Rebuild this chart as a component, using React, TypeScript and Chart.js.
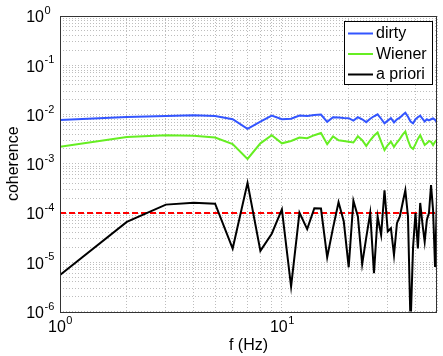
import { useEffect, useRef } from "react";
import { Chart, registerables } from "chart.js";
Chart.register(...registerables);

const freqs = [1,2,3,4,5,6,7,8,9,10,11,12,13,14,15,16,17,18,19,20,21,22,23,24,25,26,27,28,29,30,31,32,33,34,35,36,37,38,39,40,41,42,43,44,45,46,47,48,49,50];
const dirty = [0.0077,0.0089,0.0093,0.0096,0.0093,0.0080,0.0051,0.0072,0.0095,0.0080,0.0082,0.0095,0.0093,0.0098,0.0100,0.0071,0.0088,0.0087,0.0085,0.0084,0.0075,0.0088,0.0080,0.0070,0.0082,0.0092,0.0101,0.0082,0.0066,0.0075,0.0084,0.0069,0.0080,0.0086,0.0098,0.0109,0.0090,0.0072,0.0066,0.0080,0.0088,0.0095,0.0082,0.0072,0.0080,0.0076,0.0080,0.0083,0.0078,0.0069];
const wiener = [0.0022,0.0035,0.0038,0.0037,0.0034,0.0025,0.00125,0.0026,0.0038,0.0026,0.0029,0.0034,0.0033,0.0038,0.0042,0.0025,0.0036,0.0030,0.0029,0.0028,0.0027,0.0036,0.0030,0.0023,0.0030,0.0037,0.0043,0.0028,0.0019,0.0024,0.0028,0.0022,0.0027,0.0032,0.0039,0.0045,0.0030,0.0022,0.0020,0.0025,0.0032,0.0038,0.0030,0.0024,0.0026,0.0029,0.0028,0.0024,0.0028,0.0031];
const aPriori = [5.5e-6,6.6e-5,1.48e-4,1.62e-4,1.55e-4,1.9e-5,4.1e-4,1.7e-5,3.8e-5,1.18e-4,3.2e-6,1.02e-4,4.7e-5,1.25e-4,1.23e-4,1.26e-5,5e-5,1.65e-4,6.8e-5,7.9e-6,1.78e-4,8.5e-5,9.1e-6,3.2e-5,1.0e-4,6e-6,8.5e-5,3.6e-5,2.9e-4,4.2e-5,4.9e-5,1.4e-5,6.2e-5,8.5e-5,1.6e-4,2.9e-4,8.5e-5,5e-7,2e-5,1.0e-4,1.9e-5,1.6e-4,6e-5,2.6e-5,7.2e-5,1.0e-4,3.7e-4,1.15e-4,8e-6,2.1e-4];
const threshold = 1e-4;
const xTickExps = [0, 1];
const yTickExps = [0, -1, -2, -3, -4, -5, -6];
const xGridValues = [1,2,3,4,5,6,7,8,9,10,20,30,40,50];
const seriesLabels = ["dirty", "Wiener", "a priori"];
const seriesColors = ["#3355ff", "#66ee22", "#000000"];

const FONT = '"Liberation Sans", Arial, Helvetica, sans-serif';

function yGridValues(): number[] {
  const out: number[] = [];
  for (let d = -6; d < 0; d++) {
    for (let k = 1; k <= 9; k++) out.push(k * Math.pow(10, d));
  }
  out.push(1);
  return out;
}

const decorPlugin = {
  id: "decor",
  afterDraw(chart: any) {
    const ctx = chart.ctx;
    const a = chart.chartArea;
    const xs = chart.scales.x;
    const ys = chart.scales.y;
    ctx.save();
    // box
    ctx.strokeStyle = "#333333";
    ctx.lineWidth = 1;
    ctx.strokeRect(Math.round(a.left) + 0.5, Math.round(a.top) + 0.5, Math.round(a.right - a.left) - 1, Math.round(a.bottom - a.top));
    ctx.fillStyle = "#000";
    // y labels
    for (const e of yTickExps) {
      const py = ys.getPixelForValue(Math.pow(10, e));
      ctx.font = "16px " + FONT;
      ctx.textAlign = "right";
      ctx.textBaseline = "middle";
      ctx.fillText("10", 44, py + 2);
      ctx.font = "11px " + FONT;
      ctx.textAlign = "left";
      ctx.fillText(String(e), 44.5, py - 5);
    }
    // x labels
    for (const e of xTickExps) {
      const px = xs.getPixelForValue(Math.pow(10, e));
      ctx.font = "16px " + FONT;
      const w1 = ctx.measureText("10").width;
      ctx.font = "11px " + FONT;
      const w2 = ctx.measureText(String(e)).width;
      const start = px - (w1 + w2) / 2;
      ctx.textAlign = "left";
      ctx.textBaseline = "middle";
      ctx.font = "16px " + FONT;
      ctx.fillText("10", start, a.bottom + 16);
      ctx.font = "11px " + FONT;
      ctx.fillText(String(e), start + w1 + 0.5, a.bottom + 9);
    }
    // axis titles
    ctx.font = "16px " + FONT;
    ctx.textAlign = "center";
    ctx.textBaseline = "middle";
    ctx.fillText("f (Hz)", (a.left + a.right) / 2, a.bottom + 34);
    ctx.save();
    ctx.translate(13.5, (a.top + a.bottom) / 2);
    ctx.rotate(-Math.PI / 2);
    ctx.fillText("coherence", 0, 0);
    ctx.restore();
    // legend
    const lw = 88, lh = 63;
    const lx = a.right - 5 - lw, ly = a.top + 5;
    ctx.fillStyle = "#ffffff";
    ctx.fillRect(lx, ly, lw, lh);
    ctx.strokeStyle = "#000";
    ctx.lineWidth = 1;
    ctx.strokeRect(Math.round(lx) + 0.5, Math.round(ly) + 0.5, lw, lh);
    const dsets = chart.data.datasets;
    for (let i = 0; i < 3; i++) {
      const cy = ly + 12.5 + i * 20.5;
      ctx.strokeStyle = dsets[i].borderColor;
      ctx.lineWidth = 2;
      ctx.beginPath();
      ctx.moveTo(lx + 4, cy);
      ctx.lineTo(lx + 29, cy);
      ctx.stroke();
      ctx.fillStyle = "#000";
      ctx.font = "16px " + FONT;
      ctx.textAlign = "left";
      ctx.textBaseline = "middle";
      ctx.fillText(dsets[i].label, lx + 32, cy + 0.5);
    }
    ctx.restore();
  },
};

export default function App() {
  const ref = useRef<HTMLCanvasElement>(null);
  useEffect(() => {
    if (!ref.current) return;
    const mk = (vals: number[]) => freqs.map((f, i) => ({ x: f, y: vals[i] }));
    const chart = new Chart(ref.current, {
      type: "line",
      data: {
        datasets: [
          { label: seriesLabels[0], data: mk(dirty), borderColor: seriesColors[0], borderWidth: 2, pointRadius: 0, tension: 0 },
          { label: seriesLabels[1], data: mk(wiener), borderColor: seriesColors[1], borderWidth: 2, pointRadius: 0, tension: 0 },
          { label: seriesLabels[2], data: mk(aPriori), borderColor: seriesColors[2], borderWidth: 2, pointRadius: 0, tension: 0 },
          { label: "threshold", data: freqs.map((f) => ({ x: f, y: threshold })), borderColor: "#ff0000", borderWidth: 2, borderDash: [6, 3], pointRadius: 0, tension: 0 },
        ],
      },
      options: {
        responsive: false,
        animation: false,
        devicePixelRatio: 1,
        events: [],
        layout: { padding: { left: 0, top: 16, right: 6, bottom: 0 } },
        plugins: { legend: { display: false }, tooltip: { enabled: false } },
        scales: {
          x: {
            type: "logarithmic",
            min: 1,
            max: 50,
            afterBuildTicks: (s: any) => { s.ticks = xGridValues.map((v) => ({ value: v })); },
            afterFit: (s: any) => { s.height = 44.5; },
            ticks: { display: false },
            grid: { color: "#bdbdbd", lineWidth: 1, drawTicks: false },
            border: { display: false, dash: [1, 2] },
          },
          y: {
            type: "logarithmic",
            min: 1e-6,
            max: 1,
            afterBuildTicks: (s: any) => { s.ticks = yGridValues().map((v) => ({ value: v })); },
            afterFit: (s: any) => { s.width = 60; },
            ticks: { display: false },
            grid: { color: "#bdbdbd", lineWidth: 1, drawTicks: false },
            border: { display: false, dash: [1, 2] },
          },
        },
      },
      plugins: [decorPlugin],
    } as any);
    return () => chart.destroy();
  }, []);
  return (
    <div style={{ position: "absolute", left: 0, top: 0, width: 443, height: 356, background: "#fff" }}>
      <canvas ref={ref} width={443} height={356} style={{ display: "block" }} />
    </div>
  );
}
